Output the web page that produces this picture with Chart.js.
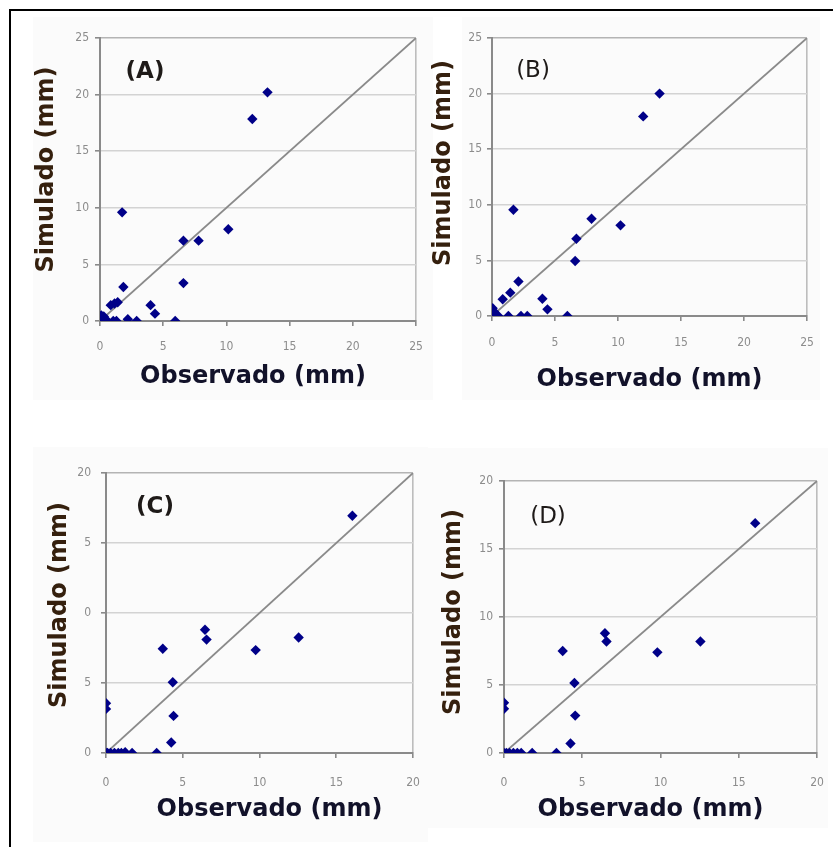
<!DOCTYPE html>
<html><head><meta charset="utf-8">
<script src="https://cdn.jsdelivr.net/npm/chart.js@4.4.1/dist/chart.umd.min.js"></script>
<style>
html,body{margin:0;padding:0;background:#fff;width:833px;height:847px;overflow:hidden;position:relative}
.frame{position:absolute;left:9px;top:9px;width:900px;height:900px;border:2px solid #000;box-sizing:border-box}
.bg{position:absolute;background:#fbfbfb}
canvas{position:absolute}
</style></head><body>
<div class="frame"></div>
<div class="bg" style="left:33px;top:17px;width:400px;height:383px"></div>
<div class="bg" style="left:462px;top:17px;width:358px;height:383px"></div>
<div class="bg" style="left:33px;top:447px;width:395px;height:395px"></div>
<div class="bg" style="left:425px;top:448px;width:403px;height:380px"></div>
<canvas id="cA" width="409" height="400" style="left:16px;top:14px"></canvas>
<canvas id="cB" width="408" height="400" style="left:425px;top:14px"></canvas>
<canvas id="cC" width="409" height="427" style="left:16px;top:420px"></canvas>
<canvas id="cD" width="408" height="427" style="left:425px;top:420px"></canvas>
<script>
// ---- data (observed vs simulated, mm) ----
const obsA = [0, 0.1, 0.3, 0.2, 0.5, 1.05, 1.3, 2.2, 2.9, 4.0, 4.35, 5.95, 0.85, 1.15, 1.4, 1.85, 6.6, 1.75, 6.6, 7.8, 10.15, 12.05, 13.25];
const simA = [0.2, 0.5, 0.4, 0, 0.1, 0, 0, 0.15, 0, 1.4, 0.65, 0, 1.4, 1.55, 1.65, 3.0, 3.35, 9.6, 7.1, 7.1, 8.1, 17.85, 20.2];

const obsB = [0, 0.05, 0.25, 0.5, 0.15, 1.3, 2.3, 2.8, 5.98, 4.0, 4.4, 0.85, 1.45, 2.1, 6.6, 6.7, 7.9, 10.2, 1.7, 12.0, 13.3];
const simB = [0, 0.7, 0.2, 0, 0.4, 0, 0, 0, 0, 1.55, 0.6, 1.5, 2.1, 3.1, 4.95, 6.95, 8.75, 8.15, 9.55, 17.95, 20.0];

const obsC = [0, 0.1, 0.3, 0.55, 0.8, 1.0, 1.25, 1.7, 3.3, 0, 0, 4.25, 4.4, 4.35, 3.7, 6.45, 6.55, 9.75, 12.55, 16.05];
const simC = [0, 0, 0, 0, 0, 0, 0.05, 0, 0, 3.55, 3.15, 0.75, 2.65, 5.05, 7.45, 8.8, 8.1, 7.35, 8.25, 16.95];

const obsD = [0, 0.15, 0.35, 0.6, 0.85, 1.1, 1.8, 3.35, 0, 0, 4.25, 4.55, 4.5, 3.75, 6.45, 6.55, 9.8, 12.55, 16.05];
const simD = [0, 0, 0, 0, 0, 0, 0, 0, 3.7, 3.25, 0.7, 2.75, 5.15, 7.5, 8.8, 8.2, 7.4, 8.2, 16.9];

const ticks25 = [0, 5, 10, 15, 20, 25];
const labels25 = ['0', '5', '10', '15', '20', '25'];
const ticks20 = [0, 5, 10, 15, 20];
const labels20 = ['0', '5', '10', '15', '20'];
const yLabelsC = ['0', '5', '0', '5', '20'];   // as printed (clipped) in panel C

const xTitle = 'Observado (mm)';
const yTitle = 'Simulado (mm)';
const panelLabels = ['(A)', '(B)', '(C)', '(D)'];

const tickFont = {family: "'DejaVu Sans Condensed','Liberation Sans Narrow','DejaVu Sans',sans-serif", size: 12};

const panelText = {
  id: 'panelText',
  afterDraw(chart, args, o) {
    const {ctx, chartArea: a} = chart;
    ctx.save();
    ctx.textAlign = 'center';
    ctx.textBaseline = 'middle';
    ctx.font = 'bold 24px "DejaVu Sans"';
    ctx.fillStyle = '#12122a';
    ctx.fillText(o.xTitle, (a.left + a.right) / 2 + o.xDx, a.bottom + o.xDy);
    ctx.save();
    ctx.translate(a.left + o.yDx, (a.top + a.bottom) / 2 + o.yDy);
    ctx.rotate(-Math.PI / 2);
    ctx.fillStyle = '#35200e';
    ctx.fillText(o.yTitle, 0, 0);
    ctx.restore();
    ctx.font = (o.bold ? 'bold ' : '') + '23px "DejaVu Sans"';
    ctx.fillStyle = '#1e1a18';
    ctx.fillText(o.label, a.left + o.lDx, a.top + o.lDy);
    ctx.restore();
  }
};

function makeChart(id, c) {
  const pts = c.obs.map((x, i) => ({x: x, y: c.sim[i]}));
  const lastX = c.xTicks.length - 1;
  const lastY = c.yTicks.length - 1;
  new Chart(document.getElementById(id), {
    type: 'scatter',
    data: {datasets: [
      {data: pts, pointStyle: 'rectRot', pointRadius: 5.2, backgroundColor: '#000088', borderColor: '#000088', borderWidth: 0, order: 1},
      {data: [{x: 0, y: 0}, {x: c.max, y: c.max}], showLine: true, pointRadius: 0, borderColor: '#8a8a8a', borderWidth: 1.8, order: 2}
    ]},
    options: {
      responsive: false, animation: false, events: [],
      layout: {padding: {top: c.padTop, right: c.padRight, left: 0, bottom: 0}},
      plugins: {legend: {display: false}, tooltip: {enabled: false},
        panelText: {xTitle: xTitle, yTitle: yTitle, label: c.label, bold: c.bold,
          xDx: c.xDx, xDy: c.xDy, yDx: c.yDx, yDy: c.yDy, lDx: c.lDx, lDy: c.lDy}},
      scales: {
        x: {
          type: 'linear', min: 0, max: c.max,
          afterBuildTicks: s => { s.ticks = c.xTicks.map(v => ({value: v})); },
          afterFit: s => { s.height = c.xAxisH; s.paddingLeft = 0; s.paddingRight = 0; },
          ticks: {callback: (v, i) => c.xLabels[i], color: '#8c8c8c', font: tickFont, padding: c.xPad, maxRotation: 0, autoSkip: false},
          grid: {color: ctx => ctx.index === lastX ? '#bdbdbd' : 'rgba(0,0,0,0)', lineWidth: 1.6, tickColor: '#8a8a8a', tickLength: 5},
          border: {color: '#8a8a8a', width: 2}
        },
        y: {
          type: 'linear', min: 0, max: c.max,
          afterBuildTicks: s => { s.ticks = c.yTicks.map(v => ({value: v})); },
          afterFit: s => { s.width = c.yAxisW; s.paddingTop = 0; s.paddingBottom = 0; },
          ticks: {callback: (v, i) => c.yLabels[i], color: '#8c8c8c', font: tickFont, padding: c.yPad, autoSkip: false},
          grid: {color: ctx => ctx.index === lastY ? '#b4b4b4' : '#d3d3d3', lineWidth: 1.6, tickColor: '#8a8a8a', tickLength: 5},
          border: {color: '#8a8a8a', width: 2}
        }
      }
    },
    plugins: [panelText]
  });
}

makeChart('cA', {obs: obsA, sim: simA, max: 25, xTicks: ticks25, xLabels: labels25, yTicks: ticks25, yLabels: labels25,
  padTop: 24, padRight: 9, yAxisW: 84, xAxisH: 93, xPad: 14, yPad: 6,
  label: panelLabels[0], bold: true, xDx: -5, xDy: 56, yDx: -53, yDy: -10, lDx: 45, lDy: 34});
makeChart('cB', {obs: obsB, sim: simB, max: 25, xTicks: ticks25, xLabels: labels25, yTicks: ticks25, yLabels: labels25,
  padTop: 24, padRight: 26, yAxisW: 67, xAxisH: 98, xPad: 15, yPad: 5,
  label: panelLabels[1], bold: false, xDx: 0, xDy: 64, yDx: -48, yDy: -14, lDx: 41, lDy: 33});
makeChart('cC', {obs: obsC, sim: simC, max: 20, xTicks: ticks20, xLabels: labels20, yTicks: ticks20, yLabels: yLabelsC,
  padTop: 53, padRight: 12, yAxisW: 90, xAxisH: 94, xPad: 18, yPad: 10,
  label: panelLabels[2], bold: true, xDx: 10, xDy: 57, yDx: -46, yDy: -8, lDx: 49, lDy: 34});
makeChart('cD', {obs: obsD, sim: simD, max: 20, xTicks: ticks20, xLabels: labels20, yTicks: ticks20, yLabels: labels20,
  padTop: 61, padRight: 16, yAxisW: 79, xAxisH: 94, xPad: 18, yPad: 6,
  label: panelLabels[3], bold: false, xDx: -10, xDy: 57, yDx: -50, yDy: -5, lDx: 44, lDy: 36});
</script>
</body></html>
